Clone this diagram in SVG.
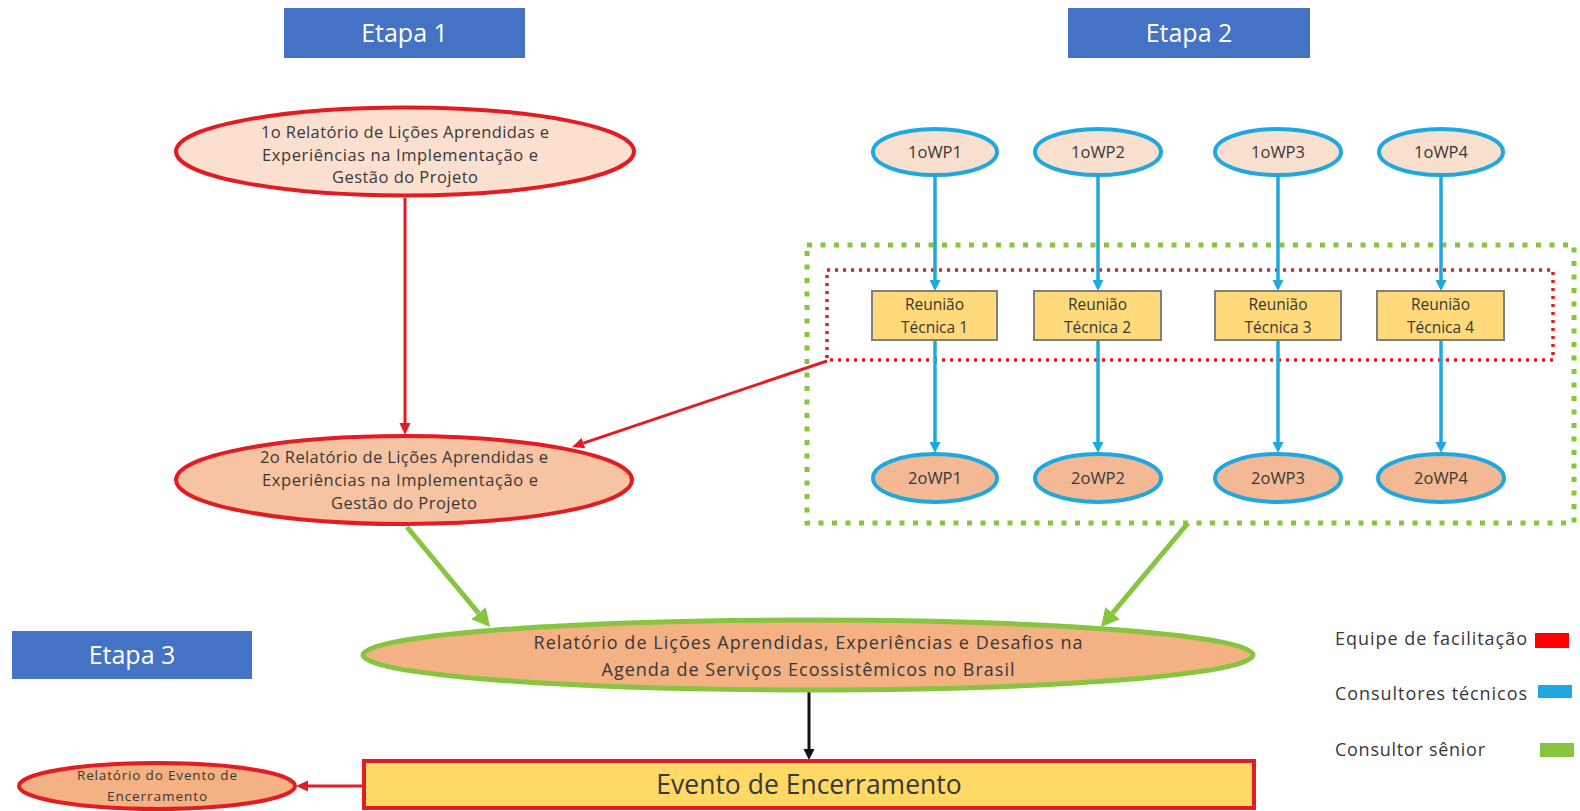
<svg xmlns="http://www.w3.org/2000/svg" width="1580" height="811" viewBox="0 0 1580 811">
<style>
text{font-family:"Open Sans","Noto Sans","Liberation Sans",sans-serif;fill:#383838;text-anchor:middle}
.etapa rect{fill:#4472c4}
.etapa text{fill:#ffffff;font-size:25px}
.rep1{fill:#fbe0cf;stroke:#e31b23;stroke-width:4}
.rep2{fill:#f7c4a3;stroke:#e31b23;stroke-width:4}
.wp1{fill:#f9dfcd;stroke:#1fa8e0;stroke-width:4}
.wp2{fill:#f4b994;stroke:#1fa8e0;stroke-width:4}
.rt rect{fill:#ffd97a;stroke:#7f7f7f;stroke-width:2}
.t15{font-size:15.5px}
.t16{font-size:16.5px}
.t17{font-size:16.5px}
.t18{font-size:18px}
.leg{font-size:18px;text-anchor:start}
.cr{fill:none;stroke:#e31b23;stroke-width:3}
.cb{fill:none;stroke:#1fa8e0;stroke-width:3.5}
.cg{fill:none;stroke:#86c540;stroke-width:5}
.ck{fill:none;stroke:#111111;stroke-width:3}
</style>
<defs>
<marker id="mr" markerUnits="userSpaceOnUse" markerWidth="14" markerHeight="14" viewBox="0 -7 14 14" refX="0" refY="0" orient="auto"><path d="M0,-5.5 L12,0 L0,5.5z" fill="#e31b23"/></marker>
<marker id="mb" markerUnits="userSpaceOnUse" markerWidth="14" markerHeight="14" viewBox="0 -7 14 14" refX="0" refY="0" orient="auto"><path d="M0,-5.5 L11,0 L0,5.5z" fill="#1fa8e0"/></marker>
<marker id="mg" markerUnits="userSpaceOnUse" markerWidth="22" markerHeight="22" viewBox="0 -11 22 22" refX="0" refY="0" orient="auto"><path d="M0,-9.5 L18,0 L0,9.5z" fill="#86c540"/></marker>
<marker id="mk" markerUnits="userSpaceOnUse" markerWidth="14" markerHeight="14" viewBox="0 -7 14 14" refX="0" refY="0" orient="auto"><path d="M0,-5.5 L11,0 L0,5.5z" fill="#111111"/></marker>
</defs>
<rect width="1580" height="811" fill="#ffffff"/>

<g id="etapa1" class="etapa"><rect x="284" y="8" width="241" height="50"/><text x="404.5" y="42">Etapa 1</text></g>
<g id="etapa2" class="etapa"><rect x="1068" y="8" width="242" height="50"/><text x="1189" y="42">Etapa 2</text></g>
<g id="etapa3" class="etapa"><rect x="12" y="631" width="240" height="48"/><text x="132" y="664">Etapa 3</text></g>

<g id="boxes">
<rect x="807" y="245" width="767" height="278" fill="none" stroke="#86c540" stroke-width="5" stroke-dasharray="5 8.5"/>
<rect x="827" y="270" width="726" height="90" fill="none" stroke="#e31b23" stroke-width="3.5" stroke-dasharray="3 5"/>
</g>

<g id="connectors">
<path class="cr" d="M405,198 L405,423" marker-end="url(#mr)"/>
<path class="cr" d="M827,361 L583.4,443.1" marker-end="url(#mr)"/>
<path class="cr" d="M364,786 L308,786" marker-end="url(#mr)"/>
<path class="cb" d="M935,177 L935,280" marker-end="url(#mb)"/>
<path class="cb" d="M1098,177 L1098,280" marker-end="url(#mb)"/>
<path class="cb" d="M1278,177 L1278,280" marker-end="url(#mb)"/>
<path class="cb" d="M1441,177 L1441,280" marker-end="url(#mb)"/>
<path class="cb" d="M935,340 L935,442" marker-end="url(#mb)"/>
<path class="cb" d="M1098,340 L1098,442" marker-end="url(#mb)"/>
<path class="cb" d="M1278,340 L1278,442" marker-end="url(#mb)"/>
<path class="cb" d="M1441,340 L1441,442" marker-end="url(#mb)"/>
<path class="cg" d="M407,527 L478.5,613.2" marker-end="url(#mg)"/>
<path class="cg" d="M1188,523 L1112.6,613.2" marker-end="url(#mg)"/>
<path class="ck" d="M809,690 L809,749" marker-end="url(#mk)"/>
</g>

<g id="rel1">
<ellipse class="rep1" cx="405" cy="151.5" rx="229" ry="44"/>
<text class="t17" x="405" y="138" textLength="288">1o Relatório de Lições Aprendidas e</text>
<text class="t17" x="400" y="161" textLength="276">Experiências na Implementação e</text>
<text class="t17" x="405" y="183" textLength="146">Gestão do Projeto</text>
</g>
<g id="rel2">
<ellipse class="rep2" cx="404" cy="480" rx="228" ry="44"/>
<text class="t17" x="404" y="463" textLength="288">2o Relatório de Lições Aprendidas e</text>
<text class="t17" x="400" y="486" textLength="276">Experiências na Implementação e</text>
<text class="t17" x="404" y="509" textLength="146">Gestão do Projeto</text>
</g>

<g id="wp1-1"><ellipse class="wp1" cx="935" cy="152" rx="62" ry="23"/><text class="t16" x="935" y="158">1oWP1</text></g>
<g id="wp1-2"><ellipse class="wp1" cx="1098" cy="152" rx="63" ry="23"/><text class="t16" x="1098" y="158">1oWP2</text></g>
<g id="wp1-3"><ellipse class="wp1" cx="1278" cy="152" rx="63" ry="23"/><text class="t16" x="1278" y="158">1oWP3</text></g>
<g id="wp1-4"><ellipse class="wp1" cx="1441" cy="152" rx="62" ry="23"/><text class="t16" x="1441" y="158">1oWP4</text></g>

<g id="rt1" class="rt"><rect x="872" y="291" width="125" height="49"/><text class="t15" x="934.5" y="310">Reunião</text><text class="t15" x="934.5" y="333">Técnica 1</text></g>
<g id="rt2" class="rt"><rect x="1034" y="291" width="127" height="49"/><text class="t15" x="1097.5" y="310">Reunião</text><text class="t15" x="1097.5" y="333">Técnica 2</text></g>
<g id="rt3" class="rt"><rect x="1215" y="291" width="126" height="49"/><text class="t15" x="1278" y="310">Reunião</text><text class="t15" x="1278" y="333">Técnica 3</text></g>
<g id="rt4" class="rt"><rect x="1377" y="291" width="127" height="49"/><text class="t15" x="1440.5" y="310">Reunião</text><text class="t15" x="1440.5" y="333">Técnica 4</text></g>

<g id="wp2-1"><ellipse class="wp2" cx="935" cy="478" rx="62" ry="24"/><text class="t16" x="935" y="484">2oWP1</text></g>
<g id="wp2-2"><ellipse class="wp2" cx="1098" cy="478" rx="63" ry="24"/><text class="t16" x="1098" y="484">2oWP2</text></g>
<g id="wp2-3"><ellipse class="wp2" cx="1278" cy="478" rx="63" ry="24"/><text class="t16" x="1278" y="484">2oWP3</text></g>
<g id="wp2-4"><ellipse class="wp2" cx="1441" cy="478" rx="63" ry="24"/><text class="t16" x="1441" y="484">2oWP4</text></g>

<g id="relfinal">
<ellipse cx="808" cy="655" rx="445" ry="35" fill="#f4b183" stroke="#86c540" stroke-width="5"/>
<text class="t18" x="808" y="649" textLength="549">Relatório de Lições Aprendidas, Experiências e Desafios na</text>
<text class="t18" x="808" y="676" textLength="413">Agenda de Serviços Ecossistêmicos no Brasil</text>
</g>

<g id="evento">
<rect x="364" y="761" width="890" height="47" fill="#ffd966" stroke="#e31b23" stroke-width="4"/>
<text x="809" y="794" style="font-size:26.5px">Evento de Encerramento</text>
</g>

<g id="relevento">
<ellipse cx="157" cy="786" rx="138" ry="23" fill="#f4b183" stroke="#e31b23" stroke-width="4"/>
<text x="157" y="780" style="font-size:13.5px" textLength="160">Relatório do Evento de</text>
<text x="157" y="801" style="font-size:13.5px" textLength="100">Encerramento</text>
</g>

<g id="legend">
<text class="leg" x="1335" y="645" textLength="192">Equipe de facilitação</text>
<rect x="1535" y="633" width="34" height="15" fill="#ff0000"/>
<text class="leg" x="1335" y="700" textLength="192">Consultores técnicos</text>
<rect x="1538" y="685" width="34" height="13" fill="#1fa8e0"/>
<text class="leg" x="1335" y="756" textLength="150">Consultor sênior</text>
<rect x="1540" y="743" width="34" height="14" fill="#86c540"/>
</g>
</svg>
